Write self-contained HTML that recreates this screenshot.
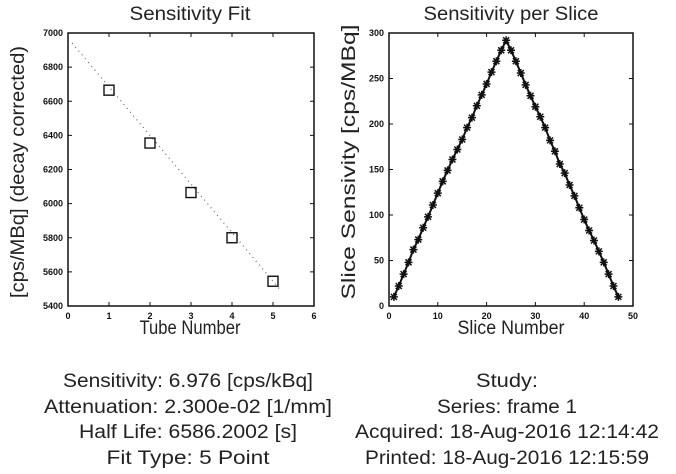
<!DOCTYPE html>
<html><head><meta charset="utf-8"><style>
body{margin:0;background:#fff;width:676px;height:474px;overflow:hidden}
svg{display:block;font-family:"Liberation Sans",sans-serif}
.tk{font-size:9px;font-weight:bold;fill:#111}
.big{font-size:19px;fill:#222}
</style></head><body>
<svg id="c" width="676" height="474">
<text x="190" y="20" class="big" text-anchor="middle" font-size="17" textLength="121" lengthAdjust="spacingAndGlyphs">Sensitivity Fit</text>
<text x="511" y="20" class="big" text-anchor="middle" font-size="17" textLength="175" lengthAdjust="spacingAndGlyphs">Sensitivity per Slice</text>
<text x="190" y="334" class="big" text-anchor="middle" textLength="101" lengthAdjust="spacingAndGlyphs">Tube Number</text>
<text x="511" y="334" class="big" text-anchor="middle" textLength="107" lengthAdjust="spacingAndGlyphs">Slice Number</text>
<text transform="translate(24,172) rotate(-90)" class="big" text-anchor="middle" textLength="252" lengthAdjust="spacingAndGlyphs">[cps/MBq] (decay corrected)</text>
<text transform="translate(355,162) rotate(-90)" class="big" text-anchor="middle" textLength="275" lengthAdjust="spacingAndGlyphs">Slice Sensivity [cps/MBq]</text>
<g class="big" text-anchor="middle">
<text x="188" y="387" textLength="250" lengthAdjust="spacingAndGlyphs">Sensitivity: 6.976 [cps/kBq]</text>
<text x="188" y="413" textLength="288" lengthAdjust="spacingAndGlyphs">Attenuation: 2.300e-02 [1/mm]</text>
<text x="188" y="438" textLength="218" lengthAdjust="spacingAndGlyphs">Half Life: 6586.2002 [s]</text>
<text x="188" y="464" textLength="163" lengthAdjust="spacingAndGlyphs">Fit Type: 5 Point</text>
</g>
<g class="big" text-anchor="middle">
<text x="507" y="387" textLength="62" lengthAdjust="spacingAndGlyphs">Study:</text>
<text x="507" y="413" textLength="140" lengthAdjust="spacingAndGlyphs">Series: frame 1</text>
<text x="507" y="438" textLength="304" lengthAdjust="spacingAndGlyphs">Acquired: 18-Aug-2016 12:14:42</text>
<text x="507" y="464" textLength="284" lengthAdjust="spacingAndGlyphs">Printed: 18-Aug-2016 12:15:59</text>
</g>
</svg>
<script>
const tubeX=[1,2,3,4,5];
const tubeY=[6665,6355,6065,5800,5545];
const fitX=[0.1,5.2];
const fitY=[6941,5488];
const leftXTicks=[0,1,2,3,4,5,6];
const leftYTicks=[5400,5600,5800,6000,6200,6400,6600,6800,7000];
const sliceY=[10,22,35,48,62,73,86,98,111,124,137,149,161,172,183,196,207,220,232,244,257,269,281,292,281,269,256,243,231,219,208,196,182,170,156,146,133,121,108,95,83,72,60,48,35,22,10];
const rightXTicks=[0,10,20,30,40,50];
const rightYTicks=[0,50,100,150,200,250,300];
const NS="http://www.w3.org/2000/svg",svg=document.getElementById('c');
function mk(t,a,p){const e=document.createElementNS(NS,t);for(const k in a)e.setAttribute(k,a[k]);(p||svg).appendChild(e);return e;}
function axes(L,R,T,B,x0,x1,y0,y1,xt,yt,nm){
 const sx=v=>L+(v-x0)/(x1-x0)*(R-L), sy=v=>B-(v-y0)/(y1-y0)*(B-T);
 const g=mk('g',{});
 
 
 const r=mk('rect',{x:L,y:T,width:R-L,height:B-T,fill:'none',stroke:'#111','stroke-width':1.5},g);
 
 
 xt.forEach(v=>{const x=sx(v);mk('line',{x1:x,x2:x,y1:B,y2:B-4,stroke:'#111'},g);mk('line',{x1:x,x2:x,y1:T,y2:T+4,stroke:'#111'},g);
  const t=mk('text',{x:x,y:B+13,'text-anchor':'middle',class:'tk'},g);t.textContent=v;
  
  });
 yt.forEach(v=>{const y=sy(v);mk('line',{x1:L,x2:L+4,y1:y,y2:y,stroke:'#111'},g);mk('line',{x1:R,x2:R-4,y1:y,y2:y,stroke:'#111'},g);
  const t=mk('text',{x:L-5,y:y+3,'text-anchor':'end',class:'tk'},g);t.textContent=v;
  
  });
 return [sx,sy];
}
let [sx,sy]=axes(68,314,33,306,0,6,5400,7000,leftXTicks,leftYTicks,'left');
const fl=mk('line',{x1:sx(fitX[0]),y1:sy(fitY[0]),x2:sx(fitX[1]),y2:sy(fitY[1]),stroke:'#666','stroke-width':1.2,'stroke-dasharray':'1 4'});


tubeX.forEach((x,i)=>{const m=mk('rect',{x:sx(x)-5,y:sy(tubeY[i])-5,width:10,height:10,fill:'none',stroke:'#111','stroke-width':1.4});
 
 });
[sx,sy]=axes(389,633,33,306,0,50,0,300,rightXTicks,rightYTicks,'right');
const pts=sliceY.map((v,i)=>sx(i+1)+','+sy(v)).join(' ');
const pl=mk('polyline',{points:pts,fill:'none',stroke:'#111','stroke-width':2});


sliceY.forEach((v,i)=>{const x=sx(i+1),y=sy(v);const s=mk('path',{d:`M${x-4},${y}h8M${x},${y-4}v8M${x-3},${y-3}l6,6M${x-3},${y+3}l6,-6`,stroke:'#111','stroke-width':1.5});
 
 });
</script>
</body></html>
